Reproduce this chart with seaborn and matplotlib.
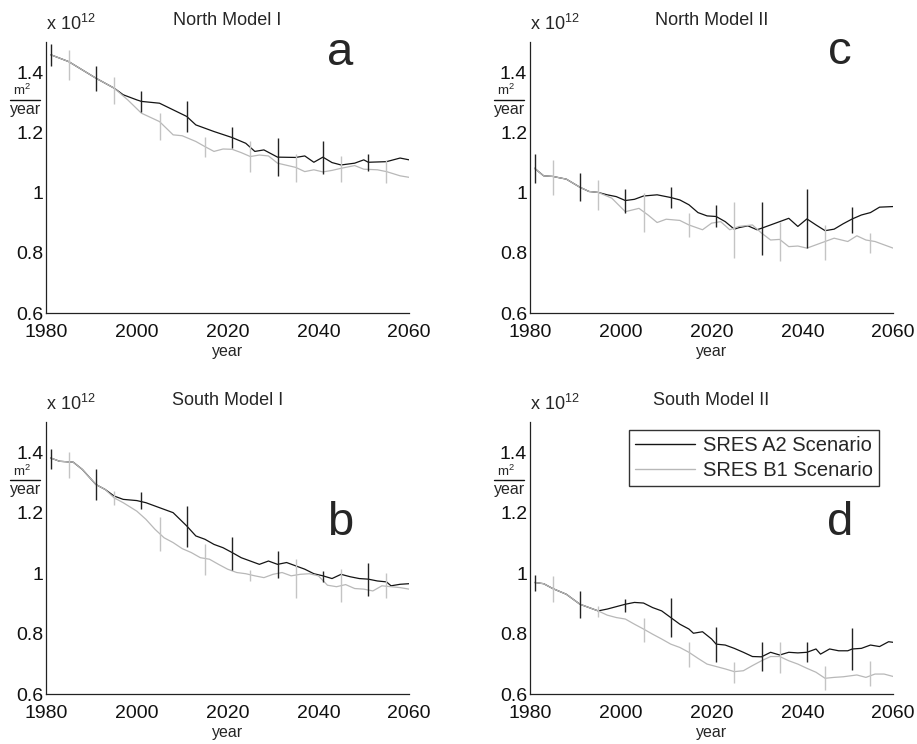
import numpy as np
import matplotlib
matplotlib.use("Agg")
import matplotlib.pyplot as plt
import seaborn as sns

# ---------------- data (units of 1e12 m^2/year) ----------------
ERR_YEARS_A2 = [1981, 1991, 2001, 2011, 2021, 2031, 2041, 2051]
ERR_YEARS_B1 = [1985, 1995, 2005, 2015, 2025, 2035, 2045, 2055]

# North Model I (a)
a_years_A2 = [1981, 1985, 1991, 1995, 1997, 2000, 2001, 2005, 2008, 2011, 2013, 2017, 2021, 2024, 2026, 2028,
              2031, 2035, 2037, 2039, 2041, 2043, 2045, 2048, 2050, 2051, 2055, 2058, 2060]
a_A2 = [1.458, 1.435, 1.380, 1.347, 1.325, 1.308, 1.303, 1.297, 1.275, 1.253, 1.225, 1.203, 1.183, 1.164, 1.137,
        1.142, 1.118, 1.117, 1.122, 1.101, 1.118, 1.100, 1.092, 1.098, 1.109, 1.101, 1.103, 1.115, 1.109]
a_years_B1 = [1981, 1985, 1991, 1995, 1998, 2001, 2005, 2008, 2010, 2013, 2015, 2017, 2019, 2021, 2023, 2025,
              2027, 2029, 2031, 2035, 2037, 2039, 2041, 2043, 2045, 2048, 2050, 2053, 2055, 2058, 2060]
a_B1 = [1.458, 1.435, 1.380, 1.347, 1.308, 1.264, 1.236, 1.192, 1.189, 1.170, 1.153, 1.137, 1.145, 1.144, 1.133,
        1.120, 1.125, 1.122, 1.098, 1.084, 1.070, 1.076, 1.069, 1.074, 1.081, 1.090, 1.078, 1.076, 1.070, 1.056, 1.051]
a_err_A2_mid = [1.458, 1.380, 1.303, 1.253, 1.183, 1.118, 1.118, 1.101]
a_err_A2_half = [0.036, 0.041, 0.034, 0.050, 0.034, 0.064, 0.055, 0.029]
a_err_B1_mid = [1.424, 1.340, 1.220, 1.153, 1.120, 1.081, 1.079, 1.070]
a_err_B1_half = [0.050, 0.045, 0.044, 0.033, 0.050, 0.047, 0.042, 0.039]

# North Model II (c)
c_years_A2 = [1981, 1983, 1985, 1988, 1991, 1993, 1995, 1997, 1999, 2001, 2003, 2005, 2008, 2011, 2013, 2015,
              2017, 2019, 2021, 2023, 2025, 2026, 2028, 2030, 2031, 2033, 2035, 2037, 2039, 2041, 2043, 2045,
              2047, 2049, 2051, 2053, 2055, 2057, 2060]
c_A2 = [1.081, 1.056, 1.054, 1.045, 1.018, 1.004, 1.001, 0.993, 0.987, 0.974, 0.978, 0.989, 0.993, 0.984, 0.976,
        0.960, 0.934, 0.923, 0.921, 0.904, 0.879, 0.884, 0.890, 0.877, 0.882, 0.893, 0.904, 0.915, 0.888, 0.913,
        0.893, 0.874, 0.879, 0.897, 0.913, 0.926, 0.934, 0.952, 0.954]
c_years_B1 = [1981, 1983, 1985, 1988, 1991, 1993, 1995, 1998, 2001, 2004, 2006, 2008, 2010, 2013, 2015, 2018,
              2020, 2022, 2024, 2026, 2029, 2031, 2033, 2035, 2037, 2039, 2041, 2043, 2045, 2047, 2050, 2052,
              2054, 2056, 2058, 2060]
c_B1 = [1.081, 1.056, 1.054, 1.045, 1.018, 1.004, 1.001, 0.982, 0.937, 0.948, 0.926, 0.901, 0.912, 0.908, 0.893,
        0.877, 0.899, 0.904, 0.877, 0.888, 0.893, 0.866, 0.843, 0.845, 0.821, 0.823, 0.816, 0.827, 0.838, 0.849,
        0.838, 0.857, 0.843, 0.838, 0.827, 0.816]
c_err_A2_mid = [1.081, 1.018, 0.972, 0.984, 0.923, 0.881, 0.914, 0.910]
c_err_A2_half = [0.048, 0.047, 0.040, 0.035, 0.037, 0.087, 0.098, 0.044]
c_err_B1_mid = [1.051, 0.993, 0.934, 0.892, 0.876, 0.837, 0.836, 0.833]
c_err_B1_half = [0.058, 0.050, 0.065, 0.040, 0.092, 0.065, 0.058, 0.033]

# South Model I (b)
b_years_A2 = [1981, 1983, 1986, 1988, 1991, 1993, 1995, 1997, 2000, 2002, 2004, 2006, 2008, 2011, 2013, 2015,
              2017, 2019, 2021, 2023, 2025, 2027, 2029, 2031, 2033, 2035, 2037, 2039, 2041, 2043, 2045, 2047,
              2049, 2051, 2053, 2055, 2056, 2058, 2060]
b_A2 = [1.381, 1.370, 1.367, 1.343, 1.293, 1.277, 1.255, 1.244, 1.240, 1.233, 1.222, 1.211, 1.200, 1.156, 1.123,
        1.112, 1.095, 1.084, 1.068, 1.051, 1.040, 1.029, 1.040, 1.029, 1.035, 1.024, 1.013, 0.998, 0.991, 0.982,
        0.996, 0.988, 0.982, 0.980, 0.974, 0.971, 0.958, 0.963, 0.965]
b_years_B1 = [1981, 1983, 1986, 1988, 1991, 1993, 1995, 1997, 2000, 2002, 2004, 2006, 2008, 2010, 2012, 2014,
              2016, 2018, 2020, 2022, 2024, 2026, 2028, 2030, 2032, 2034, 2036, 2038, 2040, 2042, 2044, 2046,
              2048, 2050, 2052, 2054, 2056, 2058, 2060]
b_B1 = [1.381, 1.370, 1.367, 1.343, 1.293, 1.277, 1.249, 1.233, 1.205, 1.178, 1.145, 1.117, 1.101, 1.081, 1.068,
        1.051, 1.046, 1.029, 1.013, 1.002, 0.998, 0.991, 0.985, 0.996, 1.002, 0.991, 0.996, 0.998, 0.991, 0.960,
        0.955, 0.962, 0.949, 0.947, 0.941, 0.958, 0.955, 0.952, 0.947]
b_err_A2_mid = [1.376, 1.293, 1.240, 1.155, 1.065, 1.029, 0.988, 0.980]
b_err_A2_half = [0.033, 0.050, 0.029, 0.067, 0.055, 0.044, 0.019, 0.055]
b_err_B1_mid = [1.358, 1.249, 1.130, 1.045, 0.993, 0.982, 0.958, 0.959]
b_err_B1_half = [0.043, 0.022, 0.057, 0.051, 0.018, 0.064, 0.055, 0.043]

# South Model II (d)
d_years_A2 = [1981, 1983, 1985, 1988, 1991, 1993, 1995, 1997, 1999, 2001, 2003, 2005, 2007, 2009, 2011, 2013,
              2015, 2016, 2018, 2020, 2021, 2023, 2025, 2027, 2029, 2031, 2033, 2035, 2037, 2039, 2041, 2043,
              2044, 2046, 2048, 2050, 2051, 2053, 2055, 2057, 2059, 2060]
d_A2 = [0.969, 0.965, 0.949, 0.930, 0.897, 0.886, 0.875, 0.881, 0.889, 0.897, 0.903, 0.901, 0.886, 0.875, 0.853,
        0.831, 0.815, 0.801, 0.806, 0.782, 0.765, 0.762, 0.751, 0.738, 0.724, 0.723, 0.738, 0.729, 0.738, 0.736,
        0.738, 0.749, 0.732, 0.749, 0.743, 0.743, 0.749, 0.751, 0.762, 0.757, 0.773, 0.771]
d_years_B1 = [1981, 1983, 1985, 1988, 1991, 1993, 1995, 1997, 1999, 2001, 2003, 2005, 2007, 2009, 2011, 2013,
              2015, 2017, 2019, 2021, 2023, 2025, 2027, 2029, 2031, 2033, 2035, 2037, 2039, 2041, 2043, 2045,
              2047, 2049, 2051, 2052, 2054, 2056, 2058, 2060]
d_B1 = [0.969, 0.965, 0.949, 0.930, 0.897, 0.886, 0.875, 0.861, 0.853, 0.848, 0.831, 0.815, 0.798, 0.782, 0.765,
        0.754, 0.738, 0.718, 0.699, 0.691, 0.683, 0.674, 0.677, 0.694, 0.710, 0.724, 0.724, 0.710, 0.699, 0.685,
        0.672, 0.652, 0.655, 0.657, 0.661, 0.663, 0.655, 0.666, 0.666, 0.658]
d_err_A2_mid = [0.968, 0.896, 0.893, 0.852, 0.765, 0.725, 0.738, 0.750]
d_err_A2_half = [0.026, 0.046, 0.021, 0.064, 0.058, 0.048, 0.033, 0.070]
d_err_B1_mid = [0.947, 0.873, 0.813, 0.731, 0.672, 0.721, 0.653, 0.669]
d_err_B1_half = [0.044, 0.019, 0.040, 0.040, 0.035, 0.052, 0.039, 0.041]

TITLES = ["North Model I", "North Model II", "South Model I", "South Model II"]
LETTERS = ["a", "c", "b", "d"]
X_TICKS = [1980, 2000, 2020, 2040, 2060]
Y_TICKS = [0.6, 0.8, 1.0, 1.2, 1.4]
Y_TICK_LABELS = ["0.6", "0.8", "1", "1.2", "1.4"]
SERIES_NAMES = ["SRES A2 Scenario", "SRES B1 Scenario"]

# ---------------- style ----------------
sns.set_theme(style="white")
plt.rcParams['font.family'] = ['Liberation Sans', 'DejaVu Sans']
plt.rcParams['mathtext.fontset'] = 'custom'
plt.rcParams['mathtext.rm'] = 'Liberation Sans'
plt.rcParams['mathtext.it'] = 'Liberation Sans'

A2_COLOR = '#141414'
B1_COLOR = '#b8b8b8'
A2_ERR = '#222222'
B1_ERR = '#c4c4c4'

fig = plt.figure(figsize=(9.17, 7.44), dpi=100)
positions = [
    [0.0502, 0.579, 0.396, 0.3645],
    [0.578, 0.579, 0.396, 0.3645],
    [0.0502, 0.0672, 0.396, 0.3656],
    [0.578, 0.0672, 0.396, 0.3656],
]
letter_pos = [(0.81, 0.915), (0.854, 0.92), (0.81, 0.585), (0.854, 0.585)]

panels = [
    (a_years_A2, a_A2, a_years_B1, a_B1, a_err_A2_mid, a_err_A2_half, a_err_B1_mid, a_err_B1_half),
    (c_years_A2, c_A2, c_years_B1, c_B1, c_err_A2_mid, c_err_A2_half, c_err_B1_mid, c_err_B1_half),
    (b_years_A2, b_A2, b_years_B1, b_B1, b_err_A2_mid, b_err_A2_half, b_err_B1_mid, b_err_B1_half),
    (d_years_A2, d_A2, d_years_B1, d_B1, d_err_A2_mid, d_err_A2_half, d_err_B1_mid, d_err_B1_half),
]

for i, (pos, pdata) in enumerate(zip(positions, panels)):
    ya2, va2, yb1, vb1, ma2, ha2, mb1, hb1 = pdata
    ax = fig.add_axes(pos)
    sns.lineplot(x=ya2, y=va2, color=A2_COLOR, lw=0.9, ax=ax, label=SERIES_NAMES[0])
    sns.lineplot(x=yb1, y=vb1, color=B1_COLOR, lw=0.9, ax=ax, label=SERIES_NAMES[1])
    ma2 = np.array(ma2); ha2 = np.array(ha2)
    mb1 = np.array(mb1); hb1 = np.array(hb1)
    ax.vlines(ERR_YEARS_A2, ma2 - ha2, ma2 + ha2, color=A2_ERR, lw=1.0)
    ax.vlines(ERR_YEARS_B1, mb1 - hb1, mb1 + hb1, color=B1_ERR, lw=1.0)

    ax.set_xlim(1980, 2060)
    ax.set_ylim(0.6, 1.5)
    ax.set_xticks(X_TICKS)
    ax.set_xticklabels([str(t) for t in X_TICKS])
    ax.set_yticks(Y_TICKS)
    ax.set_yticklabels(Y_TICK_LABELS)
    ax.tick_params(axis='both', direction='in', length=3, width=0.8, labelsize=14, colors='#111111')
    ax.tick_params(axis='x', pad=8)
    ax.tick_params(axis='y', pad=2)
    for s in ['top', 'right']:
        ax.spines[s].set_visible(False)
    for s in ['left', 'bottom']:
        ax.spines[s].set_color('#222222')
        ax.spines[s].set_linewidth(0.9)
    ax.set_xlabel('year', fontsize=11.5, labelpad=2)
    ax.set_ylabel('')
    ax.set_title(TITLES[i], fontsize=13, pad=12)
    ax.text(0.0, 1.03, r'x 10$^{12}$', transform=ax.transAxes, fontsize=13, ha='left', va='bottom')
    # units label m^2 / year
    ax.text(-0.065, 0.792, r'm$^2$', transform=ax.transAxes, fontsize=9.5, ha='center', va='bottom')
    ax.plot([-0.100, -0.016], [0.787, 0.787], transform=ax.transAxes, color='#111111', lw=1.0, clip_on=False)
    ax.text(-0.057, 0.780, 'year', transform=ax.transAxes, fontsize=11.5, ha='center', va='top')
    ax.text(letter_pos[i][0], letter_pos[i][1], LETTERS[i], transform=ax.transAxes, fontsize=34,
            ha='center', va='baseline')

    if i == 3:
        leg = ax.legend(loc='upper right', bbox_to_anchor=(0.961, 0.971), borderaxespad=0,
                        fontsize=14.5, frameon=True, fancybox=False, edgecolor='black',
                        handlelength=2.95, borderpad=0.3, labelspacing=0.3, handletextpad=0.4)
        leg.get_frame().set_linewidth(1.0)
        for line in leg.get_lines():
            line.set_linewidth(1.0)
    else:
        ax.get_legend().remove()

fig.savefig('out.png', dpi=100)
